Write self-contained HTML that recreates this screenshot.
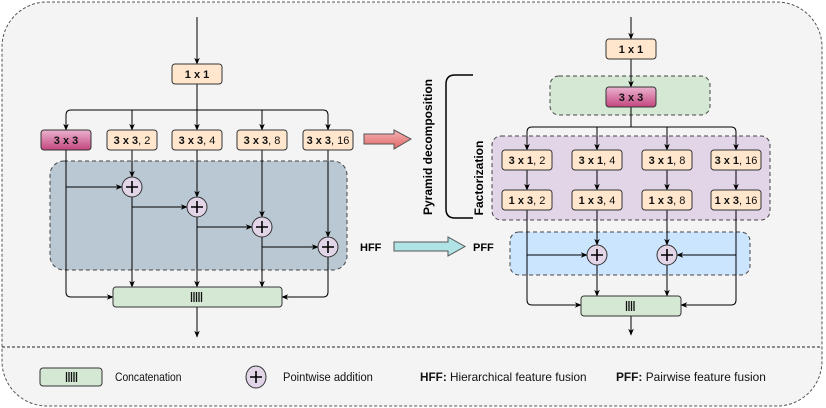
<!DOCTYPE html>
<html><head><meta charset="utf-8"><style>
body{margin:0;background:#fff}
svg{display:block;font-family:"Liberation Sans",sans-serif}
.b{font-weight:bold}
</style></head><body>
<svg width="826" height="408" viewBox="0 0 826 408" xmlns="http://www.w3.org/2000/svg">
<defs>
<marker id="a" viewBox="0 0 10 10" refX="9" refY="5" markerWidth="7" markerHeight="7" orient="auto"><path d="M0,1 L10,5 L0,9 L3,5 z" fill="#000"/></marker>
<linearGradient id="pk" x1="0" y1="0" x2="0" y2="1"><stop offset="0" stop-color="#eab3cf"/><stop offset="1" stop-color="#c4467f"/></linearGradient>
<linearGradient id="rd" x1="0" y1="0" x2="0" y2="1"><stop offset="0" stop-color="#f6b4b4"/><stop offset="1" stop-color="#e06666"/></linearGradient>
</defs>
<rect x="2" y="2" width="820" height="404" rx="45" fill="#f4f4f4" stroke="#555" stroke-dasharray="3,2"/>
<line x1="2" y1="347" x2="822" y2="347" stroke="#222" stroke-dasharray="3,2"/>

<rect x="50" y="161" width="297" height="109" rx="14" fill="#bac8d3" stroke="#444" stroke-dasharray="4,3"/>
<rect x="550" y="76" width="160" height="39" rx="9" fill="#d5e8d4" stroke="#444" stroke-dasharray="4,3"/>
<rect x="492" y="136" width="278" height="84" rx="9" fill="#e1d5e7" stroke="#444" stroke-dasharray="4,3"/>
<rect x="510" y="232" width="240" height="43" rx="9" fill="#cce5ff" stroke="#444" stroke-dasharray="4,3"/>

<g stroke="#000" fill="none" stroke-width="1">
<line x1="197" y1="17" x2="197" y2="64" marker-end="url(#a)"/>
<line x1="197" y1="84" x2="197" y2="130" marker-end="url(#a)"/>
<path d="M66,130 V115 Q66,110 71,110 H323 Q328,110 328,115 V130" marker-end="url(#a)"/>
<path d="M66,116 V130" marker-end="url(#a)"/>
<line x1="132" y1="110" x2="132" y2="130" marker-end="url(#a)"/>
<line x1="262" y1="110" x2="262" y2="130" marker-end="url(#a)"/>
<line x1="132" y1="150" x2="132" y2="177" marker-end="url(#a)"/>
<line x1="197" y1="150" x2="197" y2="197" marker-end="url(#a)"/>
<line x1="262" y1="150" x2="262" y2="217" marker-end="url(#a)"/>
<line x1="328" y1="150" x2="328" y2="237" marker-end="url(#a)"/>
<line x1="66" y1="187" x2="122" y2="187" marker-end="url(#a)"/>
<line x1="132" y1="207" x2="187" y2="207" marker-end="url(#a)"/>
<line x1="197" y1="227" x2="252" y2="227" marker-end="url(#a)"/>
<line x1="262" y1="247" x2="318" y2="247" marker-end="url(#a)"/>
<line x1="132" y1="197" x2="132" y2="287" marker-end="url(#a)"/>
<line x1="197" y1="217" x2="197" y2="287" marker-end="url(#a)"/>
<line x1="262" y1="237" x2="262" y2="287" marker-end="url(#a)"/>
<path d="M66,150 V292 Q66,297 71,297 H113" marker-end="url(#a)"/>
<path d="M328,257 V292 Q328,297 323,297 H282" marker-end="url(#a)"/>
<line x1="197" y1="307" x2="197" y2="337" marker-end="url(#a)"/>
</g>

<g stroke="#000" fill="none">
<line x1="631" y1="17" x2="631" y2="39" marker-end="url(#a)"/>
<line x1="631" y1="59" x2="631" y2="87" marker-end="url(#a)"/>
<line x1="631" y1="107" x2="631" y2="127"/>
<path d="M527,150 V132 Q527,127 532,127 H731 Q736,127 736,132 V150" marker-end="url(#a)"/>
<path d="M527,140 V150" marker-end="url(#a)"/>
<line x1="597" y1="127" x2="597" y2="150" marker-end="url(#a)"/>
<line x1="667" y1="127" x2="667" y2="150" marker-end="url(#a)"/>
<line x1="527" y1="170" x2="527" y2="190" marker-end="url(#a)"/>
<line x1="597" y1="170" x2="597" y2="190" marker-end="url(#a)"/>
<line x1="667" y1="170" x2="667" y2="190" marker-end="url(#a)"/>
<line x1="736" y1="170" x2="736" y2="190" marker-end="url(#a)"/>
<line x1="597" y1="210" x2="597" y2="245" marker-end="url(#a)"/>
<line x1="667" y1="210" x2="667" y2="245" marker-end="url(#a)"/>
<line x1="527" y1="255" x2="587" y2="255" marker-end="url(#a)"/>
<line x1="736" y1="255" x2="677" y2="255" marker-end="url(#a)"/>
<line x1="597" y1="265" x2="597" y2="296" marker-end="url(#a)"/>
<line x1="667" y1="265" x2="667" y2="296" marker-end="url(#a)"/>
<path d="M527,210 V300 Q527,305 532,305 H581" marker-end="url(#a)"/>
<path d="M736,210 V300 Q736,305 731,305 H681" marker-end="url(#a)"/>
<line x1="631" y1="316" x2="631" y2="335" marker-end="url(#a)"/>
</g>

<g stroke="#333">
<rect x="172" y="64" width="50" height="20" rx="3" fill="#ffe6cc"/>
<rect x="41" y="130" width="50" height="20" rx="3" fill="url(#pk)"/>
<rect x="107" y="130" width="50" height="20" rx="3" fill="#ffe6cc"/>
<rect x="172" y="130" width="50" height="20" rx="3" fill="#ffe6cc"/>
<rect x="237" y="130" width="50" height="20" rx="3" fill="#ffe6cc"/>
<rect x="303" y="130" width="50" height="20" rx="3" fill="#ffe6cc"/>
<rect x="113" y="287" width="169" height="20" rx="3" fill="#d5e8d4"/>
<rect x="606" y="39" width="50" height="20" rx="3" fill="#ffe6cc"/>
<rect x="606" y="87" width="50" height="20" rx="3" fill="url(#pk)"/>
<rect x="502" y="150" width="50" height="20" rx="3" fill="#ffe6cc"/>
<rect x="572" y="150" width="50" height="20" rx="3" fill="#ffe6cc"/>
<rect x="642" y="150" width="50" height="20" rx="3" fill="#ffe6cc"/>
<rect x="711" y="150" width="50" height="20" rx="3" fill="#ffe6cc"/>
<rect x="502" y="190" width="50" height="20" rx="3" fill="#ffe6cc"/>
<rect x="572" y="190" width="50" height="20" rx="3" fill="#ffe6cc"/>
<rect x="642" y="190" width="50" height="20" rx="3" fill="#ffe6cc"/>
<rect x="711" y="190" width="50" height="20" rx="3" fill="#ffe6cc"/>
<rect x="581" y="296" width="100" height="20" rx="3" fill="#d5e8d4"/>
<rect x="40" y="368" width="62" height="18" rx="3" fill="#d5e8d4"/>
</g>

<g font-size="11" text-anchor="middle" fill="#111">
<text x="197" y="78" class="b">1 x 1</text>
<text x="66" y="144" class="b">3 x 3</text>
<text x="132" y="144"><tspan class="b">3 x 3</tspan>, 2</text>
<text x="197" y="144"><tspan class="b">3 x 3</tspan>, 4</text>
<text x="262" y="144"><tspan class="b">3 x 3</tspan>, 8</text>
<text x="328" y="144"><tspan class="b">3 x 3</tspan>, 16</text>
<text x="631" y="53" class="b">1 x 1</text>
<text x="631" y="101" class="b">3 x 3</text>
<text x="527" y="164"><tspan class="b">3 x 1</tspan>, 2</text>
<text x="597" y="164"><tspan class="b">3 x 1</tspan>, 4</text>
<text x="667" y="164"><tspan class="b">3 x 1</tspan>, 8</text>
<text x="736" y="164"><tspan class="b">3 x 1</tspan>, 16</text>
<text x="527" y="204"><tspan class="b">1 x 3</tspan>, 2</text>
<text x="597" y="204"><tspan class="b">1 x 3</tspan>, 4</text>
<text x="667" y="204"><tspan class="b">1 x 3</tspan>, 8</text>
<text x="736" y="204"><tspan class="b">1 x 3</tspan>, 16</text>
</g>

<g stroke="#111" stroke-width="1.3">
<path d="M191.5,292v10M194,292v10M196.5,292v10M199,292v10M201.5,292v10"/>
<path d="M626.5,301v10M629,301v10M631.5,301v10M634,301v10"/>
<path d="M66.5,372v10M69,372v10M71.5,372v10M74,372v10M76.5,372v10"/>
</g>

<g stroke="#333" fill="#e1d5e7">
<circle cx="132" cy="187" r="10"/><circle cx="197" cy="207" r="10"/><circle cx="262" cy="227" r="10"/><circle cx="328" cy="247" r="10"/>
<circle cx="597" cy="255" r="10"/><circle cx="667" cy="255" r="10"/>
<ellipse cx="256" cy="377" rx="10" ry="11"/>
</g>
<g stroke="#000" stroke-width="1.6">
<path d="M126,187h12M132,181v12M191,207h12M197,201v12M256,227h12M262,221v12M322,247h12M328,241v12M591,255h12M597,249v12M661,255h12M667,249v12M250,377h12M256,371v12"/>
</g>

<path d="M364,134 H394 V130 L411,139 L394,149 V144 H364 Z" fill="url(#rd)" stroke="#555"/>
<path d="M394,242 H448 V237 L465,246.5 L448,256 V251 H394 Z" fill="#b0e3e6" stroke="#555"/>
<text x="360" y="251" font-size="11" class="b">HFF</text>
<text x="473" y="251" font-size="11" class="b">PFF</text>
<path d="M473,75 H455 Q446,75 446,84 V209 Q446,218 455,218 H473" fill="none" stroke="#000" stroke-width="1.5"/>
<text transform="translate(432,147) rotate(-90)" font-size="12" class="b" text-anchor="middle">Pyramid decomposition</text>
<text transform="translate(483,178) rotate(-90)" font-size="12" class="b" text-anchor="middle">Factorization</text>

<g font-size="12" fill="#111">
<text transform="translate(115,381) scale(0.86,1)">Concatenation</text>
<text transform="translate(283,381) scale(0.93,1)">Pointwise addition</text>
<text transform="translate(420,381) scale(0.98,1)"><tspan class="b">HFF:</tspan> Hierarchical feature fusion</text>
<text transform="translate(616,381) scale(0.99,1)"><tspan class="b">PFF:</tspan> Pairwise feature fusion</text>
</g>
</svg>
</body></html>
